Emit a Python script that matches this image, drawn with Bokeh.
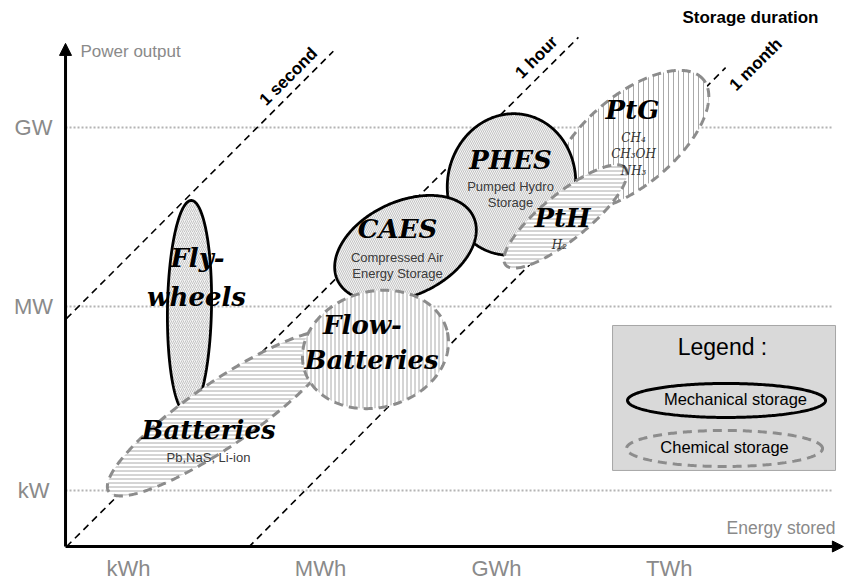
import numpy as np
from bokeh.plotting import figure
from bokeh.models import Range1d, Arrow, NormalHead
from bokeh.core.properties import value
from bokeh.embed import file_html
from bokeh.resources import INLINE

# ---------------- data (diagram coordinates: decades of energy / power) ----------------
energy_ticks = ["kWh", "MWh", "GWh", "TWh"]
energy_tick_pos = [3.0, 6.0, 8.75, 11.45]
power_ticks = ["kW", "MW", "GW"]
power_tick_pos = [3.0, 6.04, 9.0]

durations = ["1 second", "1 hour", "1 month"]
dur_x0 = [2.03, 2.03, 4.875]
dur_y0 = [5.84, 2.07, 2.06]
dur_x1 = [6.20, 10.03, 12.33]
dur_y1 = [10.26, 10.49, 9.99]
dur_label_x = [5.50, 9.375, 12.80]
dur_label_y = [9.84, 10.16, 10.04]

techs = ["PtG", "PHES", "PtH", "CAES", "Flywheels", "Batteries", "Flow-Batteries"]
tech_kind = ["chemical", "mechanical", "chemical", "mechanical", "mechanical", "chemical", "chemical"]
tech_energy = [10.844, 8.984, 9.828, 7.328, 3.953, 4.469, 6.859]
tech_power = [8.785, 8.058, 7.529, 7.000, 6.025, 4.273, 5.331]
tech_major = [1.484, 1.109, 1.203, 1.172, 1.672, 2.156, 1.156]
tech_minor = [0.703, 1.000, 0.359, 0.734, 0.344, 0.500, 0.906]
tech_angle = [40, 80, 39, 25, 89, 34.5, 15]
tech_hatch = ["|", "\\", "-", "\\", "/", "-", "|"]

title_text = ["Fly-", "wheels", "Batteries", "Flow-", "Batteries", "CAES", "PHES", "PtH", "PtG"]
title_x = [4.078, 4.063, 4.25, 6.656, 6.797, 7.203, 8.969, 9.781, 10.875]
title_y = [6.835, 6.190, 3.992, 5.727, 5.149, 7.314, 8.455, 7.496, 9.281]

sub_text = ["Pb,NaS, Li-ion", "Compressed Air", "Energy Storage", "Pumped Hydro", "Storage"]
sub_x = [4.25, 7.203, 7.203, 8.969, 8.969]
sub_y = [3.545, 6.851, 6.587, 8.025, 7.760]

chem_text = ["H\u2082", "CH\u2084", "CH\u2083OH", "NH\u2083"]
chem_x = [9.734, 10.891, 10.891, 10.891]
chem_y = [7.050, 8.818, 8.570, 8.289]

# ---------------- figure ----------------
W, H = 845, 580
XR = (1.0, 14.203)
YR = (1.512, 11.099)
SX = W / (XR[1] - XR[0])
SY = H / (YR[1] - YR[0])

p = figure(width=W, height=H, x_range=Range1d(*XR), y_range=Range1d(*YR),
           output_backend="svg", toolbar_location=None, min_border=0,
           x_axis_location=None, y_axis_location=None)
p.grid.visible = False
p.outline_line_color = None
p.background_fill_color = "white"
p.border_fill_color = "white"

ORIGIN_X, ORIGIN_Y = 2.016, 2.074

# dotted reference lines
for yv in power_tick_pos:
    p.line([ORIGIN_X, 14.0], [yv, yv], line_color="#b4b4b4", line_width=2, line_dash="2 2")

# storage-duration lines
for i in range(len(durations)):
    p.line([dur_x0[i], dur_x1[i]], [dur_y0[i], dur_y1[i]], line_color="black",
           line_width=1.6, line_dash="7 5")
p.text(x=dur_label_x, y=dur_label_y, text=durations, angle=np.pi / 4,
       text_font=value("Liberation Sans"), text_font_style="bold", text_font_size="17px",
       text_align="center", text_baseline="middle", text_color="black")


def ellipse_xy(cx, cy, a, b, ang_deg, n=300):
    t = np.linspace(0, 2 * np.pi, n)
    th = np.radians(ang_deg)
    ax, bx = a * SX, b * SX
    dx = ax * np.cos(t) * np.cos(th) - bx * np.sin(t) * np.sin(th)
    dy = ax * np.cos(t) * np.sin(th) + bx * np.sin(t) * np.cos(th)
    return cx + dx / SX, cy + dy / SY


for i, name in enumerate(techs):
    xs, ys = ellipse_xy(tech_energy[i], tech_power[i], tech_major[i], tech_minor[i], tech_angle[i])
    if tech_kind[i] == "mechanical":
        p.patch(xs, ys, fill_color="#f4f4f4", hatch_pattern=tech_hatch[i], hatch_color="#9c9c9c",
                hatch_scale=4, hatch_weight=0.55, line_color="black", line_width=2.8)
    else:
        p.patch(xs, ys, fill_color="white", hatch_pattern=tech_hatch[i], hatch_color="#a0a0a0",
                hatch_scale=5 if name == "PtG" else 4, hatch_weight=0.9,
                line_color="#8c8c8c", line_width=3, line_dash="9 6")

p.text(x=title_x, y=title_y, text=title_text, text_font=value("DejaVu Serif"),
       text_font_style="bold italic", text_font_size="26px", text_align="center",
       text_baseline="middle", text_color="black")
p.text(x=sub_x, y=sub_y, text=sub_text, text_font=value("Liberation Sans"),
       text_font_size="13px", text_align="center", text_baseline="middle", text_color="#3a3a3a")
p.text(x=chem_x, y=chem_y, text=chem_text, text_font=value("DejaVu Serif"),
       text_font_style="italic", text_font_size="12px", text_align="center",
       text_baseline="middle", text_color="#333333")

# axes
p.add_layout(Arrow(end=NormalHead(size=12, fill_color="black", line_color="black"),
                   x_start=ORIGIN_X, y_start=ORIGIN_Y, x_end=ORIGIN_X, y_end=10.39,
                   line_width=3, line_color="black"))
p.add_layout(Arrow(end=NormalHead(size=11, fill_color="black", line_color="black"),
                   x_start=ORIGIN_X, y_start=ORIGIN_Y, x_end=14.17, y_end=ORIGIN_Y,
                   line_width=3, line_color="black"))

p.text(x=energy_tick_pos, y=[1.711] * len(energy_ticks), text=energy_ticks,
       text_font=value("Liberation Sans"), text_font_size="22px", text_align="center",
       text_baseline="middle", text_color="#8a8a8a")
p.text(x=[1.516] * len(power_ticks), y=power_tick_pos, text=power_ticks,
       text_font=value("Liberation Sans"), text_font_size="22px", text_align="center",
       text_baseline="middle", text_color="#8a8a8a")
p.text(x=[2.25], y=[10.256], text=["Power output"], text_font=value("Liberation Sans"),
       text_font_size="17px", text_align="left", text_baseline="middle", text_color="#8a8a8a")
p.text(x=[14.047], y=[2.372], text=["Energy stored"], text_font=value("Liberation Sans"),
       text_font_size="17.5px", text_align="right", text_baseline="middle", text_color="#8a8a8a")
p.text(x=[13.781], y=[10.818], text=["Storage duration"], text_font=value("Liberation Sans"),
       text_font_style="bold", text_font_size="17px", text_align="right",
       text_baseline="middle", text_color="black")

# legend box
p.quad(left=[10.563], right=[14.047], top=[5.727], bottom=[3.331],
       fill_color="#d9d9d9", line_color="#a6a6a6", line_width=1)
p.text(x=[12.281], y=[5.364], text=["Legend :"], text_font=value("Liberation Sans"),
       text_font_size="23px", text_align="center", text_baseline="middle", text_color="black")
mx, my = ellipse_xy(12.344, 4.488, 99 / SX, 17 / SX, 0)
p.patch(mx, my, fill_color=None, line_color="black", line_width=3)
cx_, cy_ = ellipse_xy(12.313, 3.694, 98 / SX, 18 / SX, 0)
p.patch(cx_, cy_, fill_color=None, line_color="#8c8c8c", line_width=3, line_dash="9 6")
p.text(x=[12.484, 12.313], y=[4.504, 3.711], text=["Mechanical storage", "Chemical storage"],
       text_font=value("Liberation Sans"), text_font_size="16.5px", text_align="center",
       text_baseline="middle", text_color="black")

open("out.html", "w").write(file_html(p, INLINE))
